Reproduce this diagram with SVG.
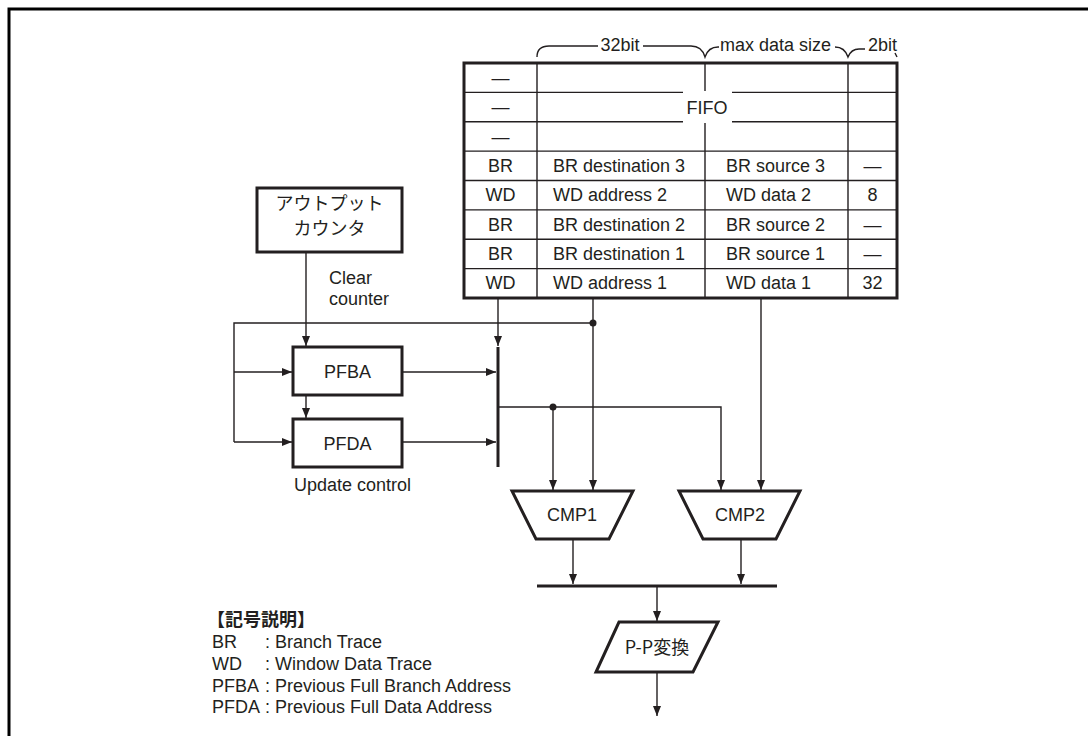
<svg xmlns="http://www.w3.org/2000/svg" width="1088" height="736" viewBox="0 0 1088 736">
<style>
text{font-family:"Liberation Sans",Arial,"Noto Sans CJK JP",sans-serif;font-size:18px;fill:#231f20}
.jp{font-family:"Noto Sans CJK JP","Liberation Sans",sans-serif}
.c{text-anchor:middle}
.thin{stroke:#231f20;stroke-width:1.4;fill:none}
.thick{stroke:#231f20;stroke-width:3;fill:#fff}
.bus{stroke:#231f20;stroke-width:3;fill:none}
.arr{marker-end:url(#ah)}
</style>
<defs>
<marker id="ah" viewBox="0 0 10 8" refX="10" refY="4" markerWidth="10" markerHeight="8" markerUnits="userSpaceOnUse" orient="auto">
<path d="M0,0 L10,4 L0,8 Z" fill="#231f20"/>
</marker>
</defs>
<rect width="1088" height="736" fill="#fff"/>
<path d="M9,736 V9 H1088" fill="none" stroke="#000" stroke-width="3"/>

<g id="fifo">
<rect x="464" y="63" width="433" height="235" class="thick"/>
<path class="thin" d="M464,92.4 H897 M464,121.8 H897 M464,151.1 H897 M464,180.5 H897 M464,209.9 H897 M464,239.3 H897 M464,268.6 H897 M537,63 V298 M705,63 V298 M848,63 V298"/>
<rect x="683" y="91" width="49" height="32" fill="#fff"/>
<text x="707" y="114" class="c">FIFO</text>
<text x="500.5" y="84" class="c">—</text>
<text x="500.5" y="113" class="c">—</text>
<text x="500.5" y="143" class="c">—</text>
<text x="500.5" y="172" class="c">BR</text>
<text x="500.5" y="201" class="c">WD</text>
<text x="500.5" y="231" class="c">BR</text>
<text x="500.5" y="260" class="c">BR</text>
<text x="500.5" y="289" class="c">WD</text>
<text x="553" y="172">BR destination 3</text>
<text x="553" y="201">WD address 2</text>
<text x="553" y="231">BR destination 2</text>
<text x="553" y="260">BR destination 1</text>
<text x="553" y="289">WD address 1</text>
<text x="726" y="172">BR source 3</text>
<text x="726" y="201">WD data 2</text>
<text x="726" y="231">BR source 2</text>
<text x="726" y="260">BR source 1</text>
<text x="726" y="289">WD data 1</text>
<text x="872.5" y="172" class="c">—</text>
<text x="872.5" y="201" class="c">8</text>
<text x="872.5" y="231" class="c">—</text>
<text x="872.5" y="260" class="c">—</text>
<text x="872.5" y="289" class="c">32</text>
</g>

<g id="widths">
<path class="thin" d="M537,57 C537,50 541,46 549,46 H598 M643,46 H691 C699,46 703,50 705,57 C707,51 711,47 718,47 H719 M835,47 C842,47 846,51 848,57 C850,52 853,49 859,49 H865 M895,53 L897,57"/>
<text x="620" y="51" class="c">32bit</text>
<text x="720" y="51">max data size</text>
<text x="868" y="51">2bit</text>
</g>

<g id="counter">
<rect x="257" y="188" width="145" height="64" class="thick"/>
<text x="329.5" y="210" class="c jp" font-size="17">アウトプット</text>
<text x="329.5" y="235" class="c jp" font-size="17">カウンタ</text>
</g>

<g id="pfba">
<rect x="293" y="347" width="109" height="48" class="thick"/>
<text x="347.5" y="378" class="c">PFBA</text>
</g>

<g id="pfda">
<rect x="293" y="419" width="109" height="48" class="thick"/>
<text x="347.5" y="450" class="c">PFDA</text>
</g>

<g id="cmp1">
<path d="M512,491 H633 L609,539 H536 Z" class="thick"/>
<text x="572" y="521" class="c">CMP1</text>
</g>

<g id="cmp2">
<path d="M679,491 H800 L776,539 H703 Z" class="thick"/>
<text x="740" y="521" class="c">CMP2</text>
</g>

<g id="pp">
<path d="M619,622 H718 L693,672 H596 Z" class="thick"/>
<text x="657" y="654" class="c jp">P-P変換</text>
</g>

<g id="labels">
<text x="329" y="284">Clear</text>
<text x="329" y="305">counter</text>
<text x="294" y="491">Update control</text>
</g>

<g id="connectors">
<path class="thin arr" d="M306,252 V346"/>
<path class="thin arr" d="M306,395 V418"/>
<path class="thin" d="M593,323 H234 V442"/>
<path class="thin arr" d="M234,372 H292"/>
<path class="thin arr" d="M234,442 H292"/>
<path class="thin arr" d="M498,298 V346"/>
<path class="thin arr" d="M402,372 H496"/>
<path class="thin arr" d="M402,442 H496"/>
<path class="bus" d="M498,347 V467"/>
<path class="thin arr" d="M498,407 H721 V490"/>
<path class="thin arr" d="M553,407 V490"/>
<path class="thin arr" d="M593,298 V490"/>
<path class="thin arr" d="M761,298 V490"/>
<circle cx="593" cy="323" r="3.5" fill="#231f20"/>
<circle cx="553" cy="407" r="3.5" fill="#231f20"/>
<path class="thin arr" d="M573,539 V584"/>
<path class="thin arr" d="M741,539 V584"/>
<path class="bus" d="M537,586 H777"/>
<path class="thin arr" d="M657,587 V621"/>
<path class="thin arr" d="M657,672 V716"/>
</g>

<g id="legend">
<text x="207" y="626" class="jp" font-weight="bold">【記号説明】</text>
<text x="212" y="648">BR</text>
<text x="212" y="670">WD</text>
<text x="212" y="692">PFBA</text>
<text x="212" y="713">PFDA</text>
<text x="265" y="648">: Branch Trace</text>
<text x="265" y="670">: Window Data Trace</text>
<text x="265" y="692">: Previous Full Branch Address</text>
<text x="265" y="713">: Previous Full Data Address</text>
</g>
</svg>
